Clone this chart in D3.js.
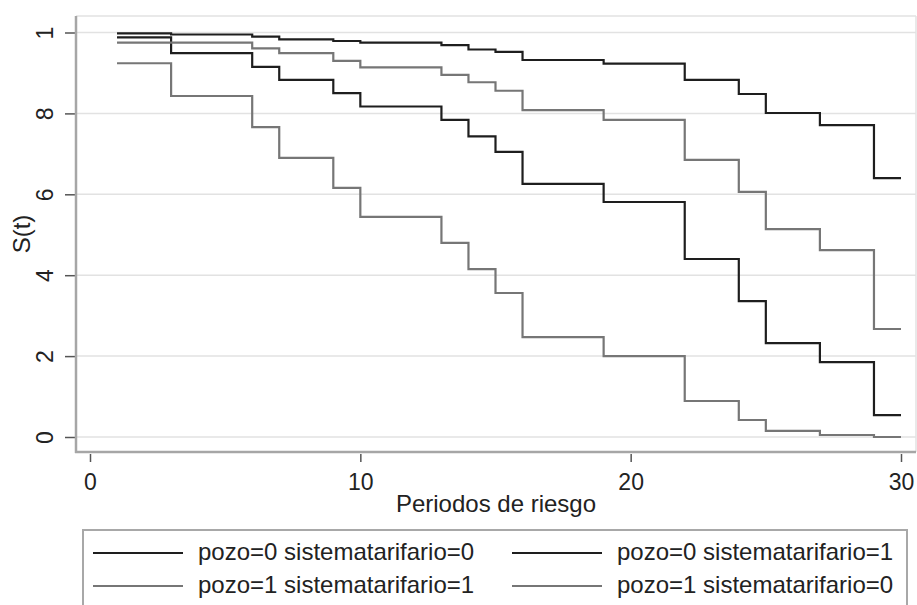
<!DOCTYPE html>
<html>
<head>
<meta charset="utf-8">
<script src="https://cdn.jsdelivr.net/npm/d3@7"></script>
<style>
  html, body { margin: 0; padding: 0; background: #fff; }
  svg { display: block; }
  text { font-family: "Liberation Sans", Arial, Helvetica, sans-serif; fill: #222; }
</style>
</head>
<body>
<svg id="chart" width="917" height="605"></svg>
<script>
// ---- data ----
const times = [1, 3, 6, 7, 9, 10, 13, 14, 15, 16, 19, 22, 24, 25, 27, 29, 30];
const seriesNames = [
  "pozo=0 sistematarifario=0",
  "pozo=0 sistematarifario=1",
  "pozo=1 sistematarifario=1",
  "pozo=1 sistematarifario=0"
];
const s00 = [0.998, 0.995, 0.990, 0.983, 0.979, 0.975, 0.969, 0.958, 0.952, 0.932, 0.923, 0.883, 0.848, 0.801, 0.771, 0.640, 0.640];
const s01 = [0.988, 0.949, 0.915, 0.883, 0.850, 0.817, 0.784, 0.743, 0.705, 0.626, 0.581, 0.440, 0.336, 0.232, 0.185, 0.054, 0.054];
const s11 = [0.975, 0.975, 0.961, 0.949, 0.930, 0.914, 0.895, 0.877, 0.856, 0.808, 0.784, 0.685, 0.606, 0.514, 0.462, 0.267, 0.267];
const s10 = [0.924, 0.843, 0.766, 0.690, 0.616, 0.544, 0.480, 0.415, 0.356, 0.247, 0.200, 0.089, 0.042, 0.015, 0.005, 0.000, 0.000];
const seriesValues = [s00, s01, s11, s10];
const seriesColors = ["#1e1e1e", "#1e1e1e", "#767676", "#767676"];

const xTicks = [0, 10, 20, 30];
const xTickLabels = ["0", "10", "20", "30"];
const yTicks = [0, 0.2, 0.4, 0.6, 0.8, 1];
const yTickLabels = ["0", "2", "4", "6", "8", "1"];
const xTitle = "Periodos de riesgo";
const yTitle = "S(t)";

// ---- layout ----
const svg = d3.select("#chart");
const plotLeft = 76, plotRight = 916, plotTop = 16, plotBottom = 452;
const fs = 23, fsT = 24;

const x = d3.scaleLinear().domain([0, 30]).range([90, 901]);
const y = d3.scaleLinear().domain([0, 1]).range([437, 32.5]);

// plot region border (light)
svg.append("line").attr("x1", plotLeft).attr("x2", plotRight).attr("y1", plotTop).attr("y2", plotTop)
  .attr("stroke", "#e2e2e2").attr("stroke-width", 1.5);
svg.append("line").attr("x1", plotRight).attr("x2", plotRight).attr("y1", plotTop).attr("y2", plotBottom)
  .attr("stroke", "#e2e2e2").attr("stroke-width", 1.5);

// gridlines
svg.append("g").selectAll("line").data(yTicks).join("line")
  .attr("x1", plotLeft).attr("x2", plotRight)
  .attr("y1", d => y(d)).attr("y2", d => y(d))
  .attr("stroke", "#e2e2e2").attr("stroke-width", 1.5);

// curves
const line = d3.line()
  .x((d, i) => x(times[i]))
  .y(d => y(d))
  .curve(d3.curveStepAfter);

seriesValues.forEach((vals, k) => {
  svg.append("path")
    .datum(vals)
    .attr("d", line)
    .attr("fill", "none")
    .attr("stroke", seriesColors[k])
    .attr("stroke-width", 2.2);
});

// y axis
const yAxis = svg.append("g").attr("transform", `translate(${plotLeft},0)`)
  .call(d3.axisLeft(y).tickValues(yTicks).tickSize(11).tickFormat((d, i) => yTickLabels[i]));
yAxis.select(".domain").remove();
yAxis.selectAll(".tick line").attr("stroke", "#555").attr("stroke-width", 1.5);
yAxis.selectAll(".tick text")
  .attr("transform", "rotate(-90)")
  .attr("x", 0).attr("y", -23).attr("dy", 0)
  .attr("text-anchor", "middle")
  .style("font-size", fs + "px")
  .style("font-family", '"Liberation Sans", Arial, sans-serif')
  .attr("fill", "#222");
svg.append("line").attr("x1", plotLeft).attr("x2", plotLeft).attr("y1", plotTop).attr("y2", plotBottom + 1)
  .attr("stroke", "#a6a6a6").attr("stroke-width", 2.5);

// x axis
const xAxis = svg.append("g").attr("transform", `translate(0,${plotBottom})`)
  .call(d3.axisBottom(x).tickValues(xTicks).tickSize(10).tickFormat((d, i) => xTickLabels[i]));
xAxis.select(".domain").remove();
xAxis.selectAll(".tick line").attr("stroke", "#555").attr("stroke-width", 1.5).attr("y1", 2);
xAxis.selectAll(".tick text")
  .attr("y", 38).attr("dy", 0)
  .style("font-size", fs + "px")
  .style("font-family", '"Liberation Sans", Arial, sans-serif')
  .attr("fill", "#222");
svg.append("line").attr("x1", plotLeft - 1).attr("x2", plotRight).attr("y1", plotBottom).attr("y2", plotBottom)
  .attr("stroke", "#a6a6a6").attr("stroke-width", 2.5);

// axis titles
svg.append("text").attr("x", (plotLeft + plotRight) / 2).attr("y", 512)
  .attr("text-anchor", "middle").style("font-size", fsT + "px").text(xTitle);
svg.append("text").attr("transform", `translate(30,${(plotTop + plotBottom) / 2}) rotate(-90)`)
  .attr("text-anchor", "middle").style("font-size", fsT + "px").text(yTitle);

// legend
const lg = svg.append("g");
lg.append("rect").attr("x", 83).attr("y", 530).attr("width", 824).attr("height", 90)
  .attr("fill", "#fff").attr("stroke", "#a8a8a8").attr("stroke-width", 2);
const colX = [93, 512];
const rowY = [553, 586];
seriesNames.forEach((name, k) => {
  const cx = colX[k % 2], cy = rowY[Math.floor(k / 2)];
  lg.append("line").attr("x1", cx).attr("x2", cx + 90).attr("y1", cy).attr("y2", cy)
    .attr("stroke", seriesColors[k]).attr("stroke-width", 2);
  lg.append("text").attr("x", cx + 105).attr("y", cy + 7)
    .style("font-size", fsT + "px").text(name);
});
</script>
</body>
</html>
